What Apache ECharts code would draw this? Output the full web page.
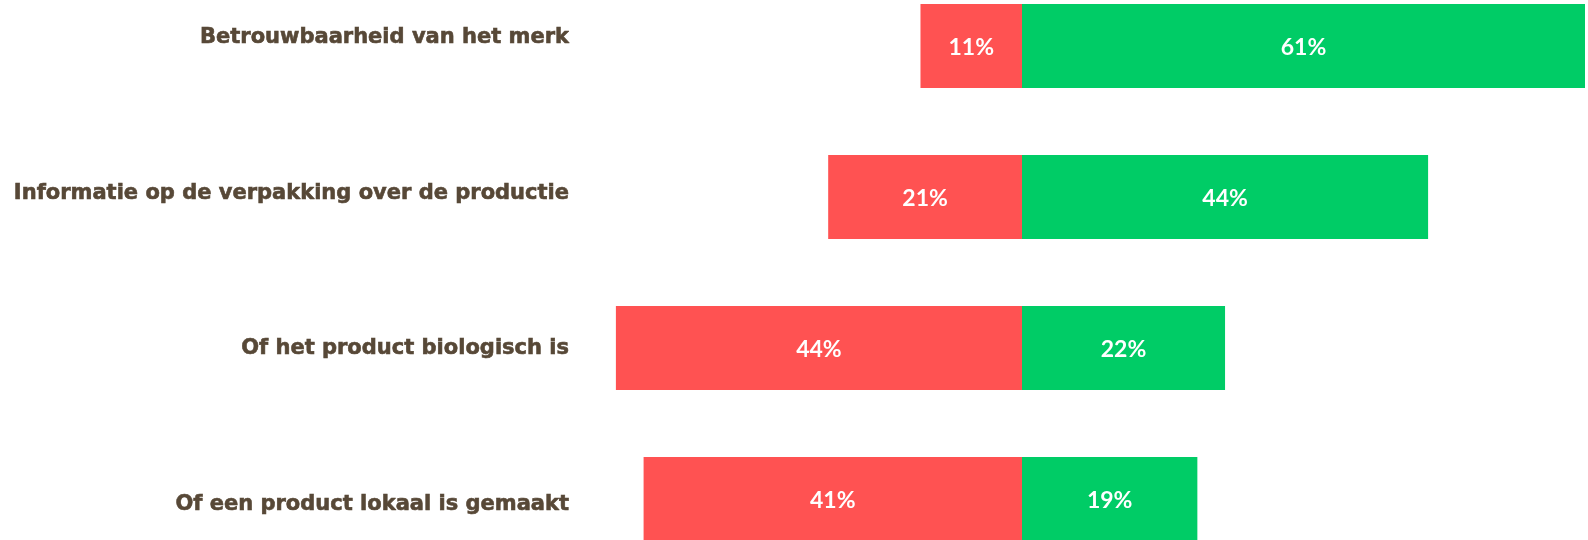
<!DOCTYPE html>
<html>
<head>
<meta charset="utf-8">
<script src="https://cdn.jsdelivr.net/npm/echarts@6/dist/echarts.min.js"></script>
<style>
html,body{margin:0;padding:0;background:#fff;}
#chart{width:1588px;height:540px;}
</style>
</head>
<body>
<div id="chart"></div>
<script>
const categories = [
  "Betrouwbaarheid van het merk",
  "Informatie op de verpakking over de productie",
  "Of het product biologisch is",
  "Of een product lokaal is gemaakt"
];
const negativeValues = [11, 21, 44, 41];
const positiveValues = [61, 44, 22, 19];

const chart = echarts.init(document.getElementById('chart'), null, {renderer: 'canvas'});
const valueLabel = {
  show: true,
  position: 'inside',
  offset: [0, 2],
  color: '#ffffff',
  fontFamily: 'Lato',
  fontWeight: 'bold',
  fontSize: 23,
  formatter: p => Math.abs(p.value) + '%'
};
chart.setOption({
  animation: false,
  grid: [
    {left: 459, right: 3, top: -29.5, bottom: -34.5, containLabel: false, outerBoundsMode: 'none'},
    {left: 580, width: 1, top: -40.5, bottom: -42.7, containLabel: false, outerBoundsMode: 'none'}
  ],
  xAxis: [
    {gridIndex: 0, type: 'value', min: -61, max: 61, show: false},
    {gridIndex: 1, type: 'value', min: 0, max: 1, show: false}
  ],
  yAxis: [
    {gridIndex: 0, type: 'category', inverse: true, data: categories,
     axisLine: {show: false}, axisTick: {show: false}, axisLabel: {show: false}, splitLine: {show: false}},
    {gridIndex: 1, type: 'category', inverse: true, data: categories,
     axisLine: {show: false}, axisTick: {show: false}, splitLine: {show: false},
     axisLabel: {show: true, margin: 11, color: '#574837', fontFamily: 'DejaVu Sans',
                 fontWeight: 'bold', fontSize: 21,
                 textBorderColor: '#574837', textBorderWidth: 0.6}}
  ],
  series: [
    {type: 'bar', name: 'neg', xAxisIndex: 0, yAxisIndex: 0, stack: 'total', barWidth: 84,
     itemStyle: {color: '#FF5252'}, label: valueLabel,
     data: negativeValues.map(v => -v)},
    {type: 'bar', name: 'pos', xAxisIndex: 0, yAxisIndex: 0, stack: 'total', barWidth: 84,
     itemStyle: {color: '#00CC66'}, label: valueLabel,
     data: positiveValues}
  ]
});
</script>
</body>
</html>
